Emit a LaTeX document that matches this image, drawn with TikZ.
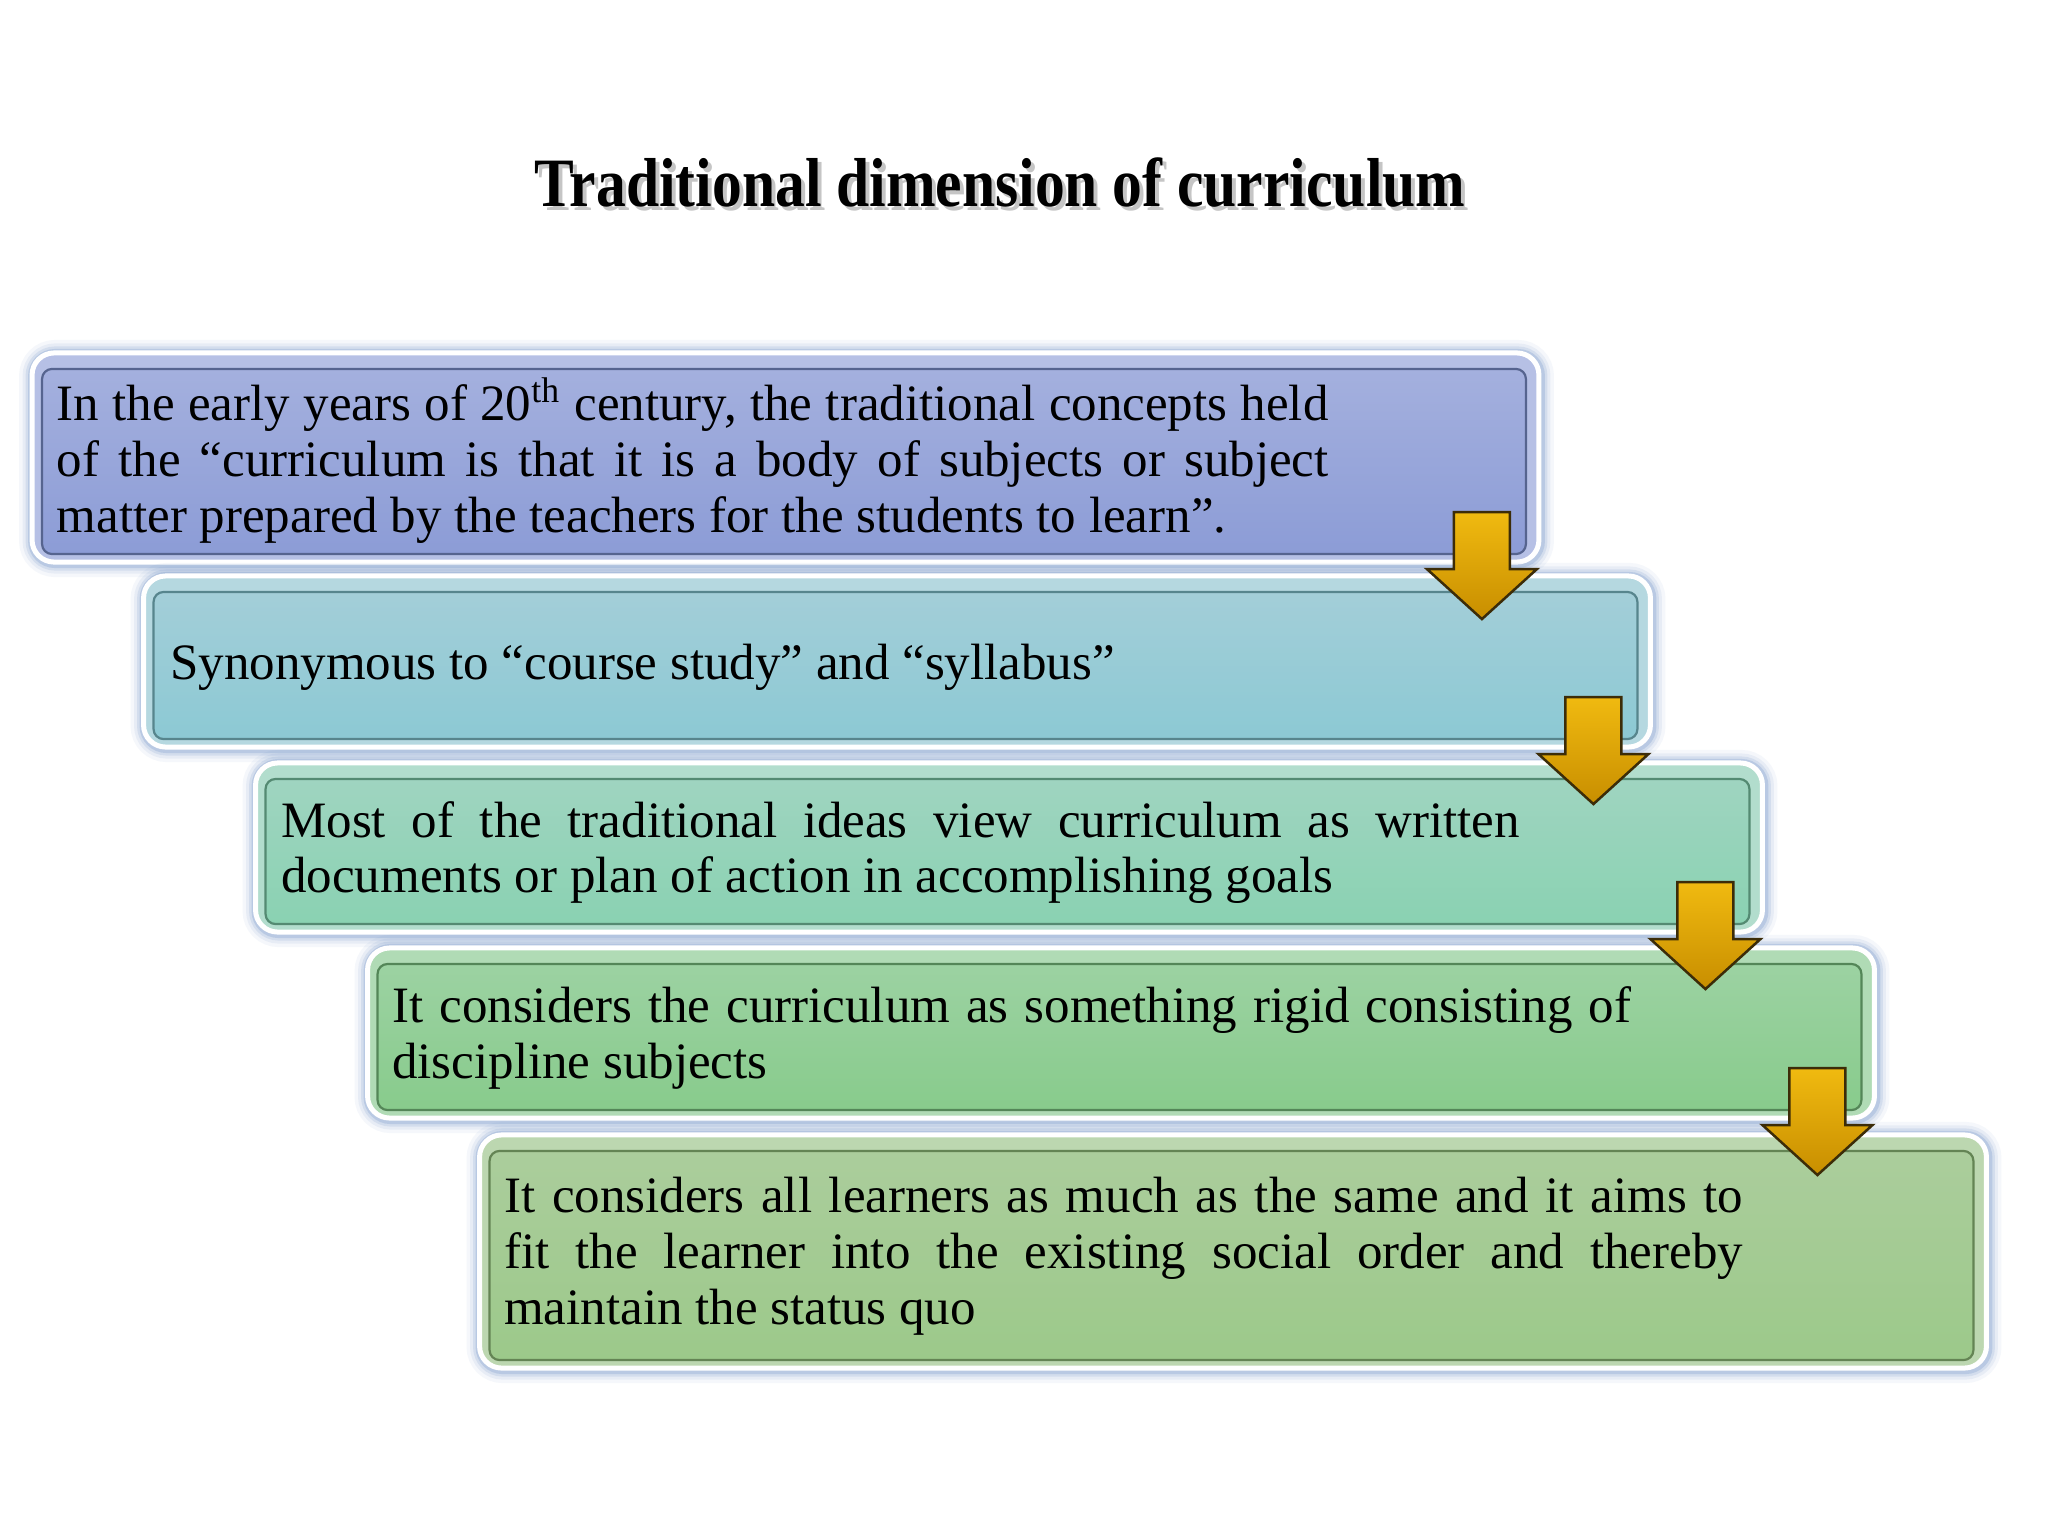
\documentclass[tikz,border=0pt]{standalone}
\usepackage{fontspec}
\setmainfont{Liberation Serif}
\usetikzlibrary{calc}
\definecolor{glowc}{HTML}{5F86C0}
\definecolor{aTop}{HTML}{A4B0DE}\definecolor{aBot}{HTML}{8C9CD6}\definecolor{aLin}{HTML}{56648F}
\definecolor{bTop}{HTML}{A3CED8}\definecolor{bBot}{HTML}{8CC9D4}\definecolor{bLin}{HTML}{57858D}
\definecolor{cTop}{HTML}{9FD4C0}\definecolor{cBot}{HTML}{8AD2B2}\definecolor{cLin}{HTML}{548A72}
\definecolor{dTop}{HTML}{9CD2A2}\definecolor{dBot}{HTML}{88CB8C}\definecolor{dLin}{HTML}{548658}
\definecolor{eTop}{HTML}{ABCD9C}\definecolor{eBot}{HTML}{9CC98A}\definecolor{eLin}{HTML}{648454}
\definecolor{goldTop}{HTML}{F0BA10}\definecolor{goldBot}{HTML}{C88E00}\definecolor{goldLin}{HTML}{3C2C08}
\tikzset{
  boxnode/.style={inner sep=0pt, outer sep=0pt, minimum width=15.06cm},
  txt/.style={anchor=west, inner sep=0pt, align=left, font=\fontsize{14.5}{15.9}\selectfont},
  goldarrow/.style={top color=goldTop, bottom color=goldBot, draw=goldLin, line width=0.025cm, line join=miter},
}
\newcommand\mybox[4]{%
  \foreach \w/\o in {0.28cm/0.06,0.21cm/0.09,0.15cm/0.14,0.10cm/0.22}
    \draw[line width=\w, draw=glowc, opacity=\o, rounded corners=0.22cm] ($(#1.north west)+(1,1)$) rectangle ($(#1.south east)+(1,1)$);
  \draw[white, line width=0.05cm, fill=#2!80!white, rounded corners=0.22cm] (#1.north west) rectangle (#1.south east);
  \draw[draw=#4, line width=0.022cm, top color=#2, bottom color=#3, rounded corners=0.1cm]
    ($(#1.north west)+(10,16)$) rectangle ($(#1.south east)+(-13,-8)$);
}
\newcommand\myarrow[1]{%
  \coordinate (#1a) at ($(#1.south east)+(-57,0)$);
  \draw[goldarrow] ($(#1a)+(-28,-50)$) -- ($(#1a)+(28,-50)$) -- ($(#1a)+(28,7)$) -- ($(#1a)+(55,7)$)
    -- ($(#1a)+(0,57)$) -- ($(#1a)+(-55,7)$) -- ($(#1a)+(-28,7)$) -- cycle;
}
\begin{document}
\begin{tikzpicture}[x=0.01cm, y=-0.01cm]
\useasboundingbox[fill=white] (0,0) rectangle (2048,1536);
% title
\node[text=gray, opacity=0.45] (titleshadow) at (1004,187) {\scalebox{0.86}[1]{\fontsize{19.7}{22}\selectfont\bfseries Traditional dimension of curriculum}};
\node (title) at (1000,183) {\scalebox{0.86}[1]{\fontsize{19.7}{22}\selectfont\bfseries Traditional dimension of curriculum}};
% boxes
\node[boxnode, minimum height=2.09cm] (b1) at (785.5,457.5) {};
\node[boxnode, minimum height=1.71cm] (b2) at (897,661.5) {};
\node[boxnode, minimum height=1.69cm] (b3) at (1009,847.5) {};
\node[boxnode, minimum height=1.70cm] (b4) at (1121,1033) {};
\node[boxnode, minimum height=2.33cm] (b5) at (1233,1251.5) {};
\mybox{b1}{aTop}{aBot}{aLin}
\mybox{b2}{bTop}{bBot}{bLin}
\mybox{b3}{cTop}{cBot}{cLin}
\mybox{b4}{dTop}{dBot}{dLin}
\mybox{b5}{eTop}{eBot}{eLin}
% texts
\node[txt] (t1) at ($(b1.west)+(24,3)$) {\makebox[12.71cm][s]{In the early years of 20\textsuperscript{th} century, the traditional concepts held}\\
\makebox[12.71cm][s]{of the “curriculum is that it is a body of subjects or subject}\\
matter prepared by the teachers for the students to learn”.};
\node[txt] (t2) at ($(b2.west)+(26,6)$) {Synonymous to “course study” and “syllabus”};
\node[txt] (t3) at ($(b3.west)+(25,5)$) {\makebox[12.38cm][s]{Most of the traditional ideas view curriculum as written}\\
documents or plan of action in accomplishing goals};
\node[txt] (t4) at ($(b4.west)+(24,5)$) {\makebox[12.38cm][s]{It considers the curriculum as something rigid consisting of}\\
discipline subjects};
\node[txt] (t5) at ($(b5.west)+(24,5)$) {\makebox[12.38cm][s]{It considers all learners as much as the same and it aims to}\\
\makebox[12.38cm][s]{fit the learner into the existing social order and thereby}\\
maintain the status quo};
% arrows
\myarrow{b1}
\myarrow{b2}
\myarrow{b3}
\myarrow{b4}
\end{tikzpicture}
\end{document}
